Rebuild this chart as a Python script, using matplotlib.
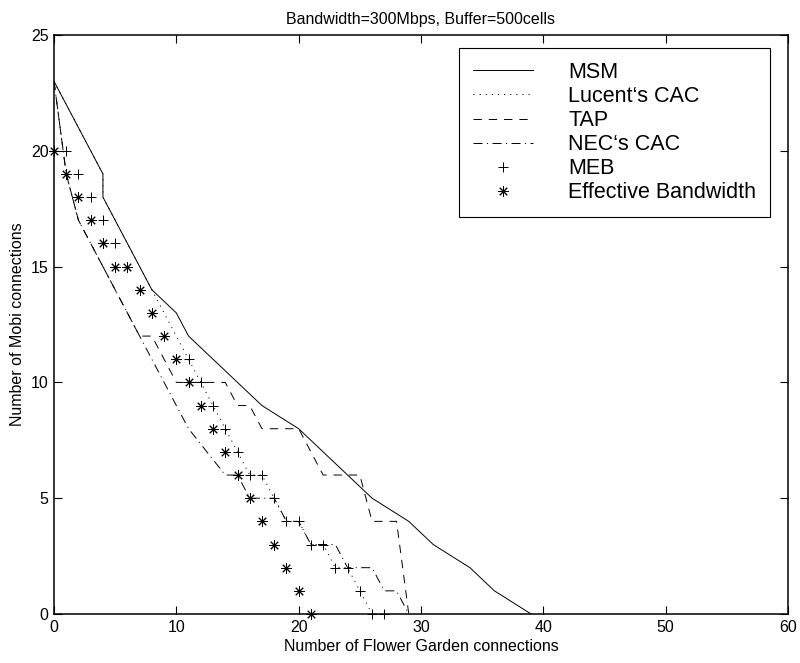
import matplotlib
matplotlib.use('Agg')
import matplotlib.pyplot as plt

# admissible region boundaries
msm_x = [0, 4, 4, 8, 10, 11, 17, 20, 26, 29, 31, 34, 36, 39]
msm_y = [23, 19, 18, 14, 13, 12, 9, 8, 5, 4, 3, 2, 1, 0]

lucent_x = [0, 4, 4, 8, 11, 12, 13, 14, 15, 16, 17, 18, 19, 20, 21, 22, 23, 24, 25, 26]
lucent_y = [23, 19, 18, 14, 11, 10, 9, 8, 7, 6, 6, 5, 4, 4, 3, 3, 2, 2, 1, 0]

tap_x = [0, 1, 2, 7, 8, 10, 14, 15, 16, 17, 20, 22, 25, 26, 28, 29]
tap_y = [23, 19, 17, 12, 12, 10, 10, 9, 9, 8, 8, 6, 6, 4, 4, 0]

nec_x = [0, 1, 2, 7, 11, 14, 15, 16, 18, 19, 20, 21, 23, 24, 26, 27, 28, 29]
nec_y = [23, 19, 17, 12, 8, 6, 6, 5, 5, 4, 4, 3, 3, 2, 2, 1, 1, 0]

meb_x = [1, 2, 3, 4, 5, 6, 7, 8, 9, 10, 11, 12, 13, 14, 15, 16, 17, 18, 19, 20,
         21, 22, 23, 24, 25, 26, 27]
meb_y = [20, 19, 18, 17, 16, 15, 14, 13, 12, 11, 11, 10, 9, 8, 7, 6, 6, 5, 4, 4,
         3, 3, 2, 2, 1, 0, 0]

eb_x = [0, 1, 2, 3, 4, 5, 6, 7, 8, 9, 10, 11, 12, 13, 14, 15, 16, 17, 18, 19, 20, 21]
eb_y = [20, 19, 18, 17, 16, 15, 15, 14, 13, 12, 11, 10, 9, 8, 7, 6, 5, 4, 3, 2, 1, 0]

x_ticks = [0, 10, 20, 30, 40, 50, 60]
y_ticks = [0, 5, 10, 15, 20, 25]

plt.rcParams['font.family'] = ['Liberation Sans', 'DejaVu Sans']
plt.rcParams['lines.scale_dashes'] = False

fig = plt.figure(figsize=(8, 6.63), dpi=100)
ax = fig.add_axes([54 / 800, 1 - 614 / 663, 734 / 800, 579 / 663])

lw = 0.7
ax.plot(msm_x, msm_y, color='k', lw=lw, label='MSM')
ax.plot(lucent_x, lucent_y, color='k', lw=lw, dashes=(0.8, 3.6), label='Lucent\u2018s CAC')
ax.plot(tap_x, tap_y, color='k', lw=lw, dashes=(6, 5), label='TAP')
ax.plot(nec_x, nec_y, color='k', lw=lw, dashes=(6.5, 3.2, 0.8, 3.2), label='NEC\u2018s CAC')
ax.plot(meb_x, meb_y, ls='none', marker='+', ms=7.5, mew=0.7, color='k',
        clip_on=False, label='MEB')
ax.plot(eb_x, eb_y, ls='none', marker=(8, 2, 0), ms=7.5, mew=0.7, color='k',
        clip_on=False, label='Effective Bandwidth')

ax.set_xlim(0, 60)
ax.set_ylim(0, 25)
ax.set_xticks(x_ticks)
ax.set_yticks(y_ticks)
ax.tick_params(direction='in', length=5.5, width=0.8, top=True, right=True,
               labelsize=11.5, pad=4)
for s in ax.spines.values():
    s.set_linewidth(1.1)

ax.set_xlabel('Number of Flower Garden connections', fontsize=11.5, labelpad=3)
ax.set_ylabel('Number of Mobi connections', fontsize=11.5, labelpad=4)
ax.set_title('Bandwidth=300Mbps, Buffer=500cells', fontsize=11.5, pad=8)

leg = ax.legend(loc='upper right', bbox_to_anchor=(0.9755, 0.9775), borderaxespad=0,
                fontsize=15.5, handlelength=2.75, handletextpad=1.65, borderpad=0.65,
                labelspacing=0.14, numpoints=1, fancybox=False, framealpha=1)
leg.get_frame().set_edgecolor('k')
leg.get_frame().set_linewidth(0.8)

fig.savefig('out.png', dpi=100)
